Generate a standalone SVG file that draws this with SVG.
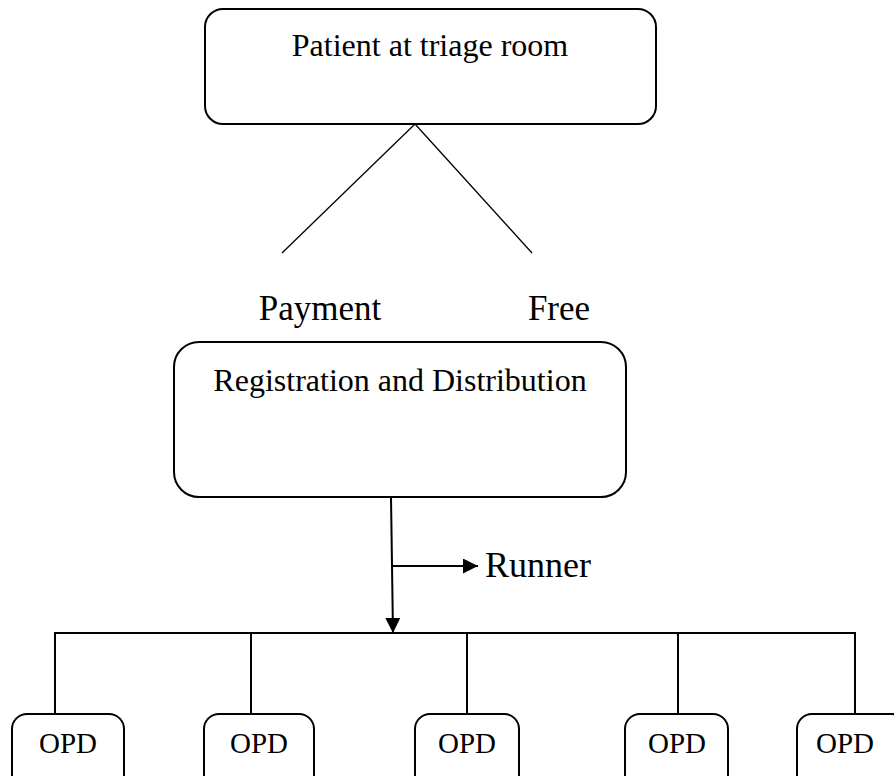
<svg xmlns="http://www.w3.org/2000/svg" width="894" height="776" viewBox="0 0 894 776">
<style>
.box{fill:#fff;stroke:#000;stroke-width:2}
.t{font-family:"Liberation Serif","Times New Roman",serif;fill:#000;text-anchor:middle}
.ln{stroke:#000;stroke-width:2;fill:none}
.thin{stroke:#000;stroke-width:1.3;fill:none}
</style>
<defs>
<marker id="ah" markerWidth="8" markerHeight="8" refX="8" refY="4" orient="auto" markerUnits="userSpaceOnUse" viewBox="0 0 8 8">
<path d="M0,0 L8,4 L0,8 Z" fill="#000"/>
</marker>
<marker id="ah2" viewBox="0 0 15 15" refX="15" refY="7.5" markerWidth="15" markerHeight="15" orient="auto" markerUnits="userSpaceOnUse">
<path d="M0,0 L15,7.5 L0,15 Z" fill="#000"/>
</marker>
</defs>
<rect width="894" height="776" fill="#fff"/>
<g id="connectors">
<line class="thin" x1="415" y1="124" x2="282" y2="253"/>
<line class="thin" x1="415" y1="124" x2="532" y2="253"/>
<line class="ln" x1="391" y1="497" x2="393" y2="633" marker-end="url(#ah2)"/>
<line class="ln" x1="392" y1="566" x2="478" y2="566" marker-end="url(#ah2)"/>
<polyline class="ln" points="55,714 55,633 855,633 855,714"/>
<line class="ln" x1="251" y1="633" x2="251" y2="714"/>
<line class="ln" x1="467" y1="633" x2="467" y2="714"/>
<line class="ln" x1="678" y1="633" x2="678" y2="714"/>
</g>
<g id="triage">
<rect class="box" x="205" y="9" width="451" height="115" rx="18"/>
<text class="t" x="430" y="56" font-size="32">Patient at triage room</text>
</g>
<g id="payment"><text class="t" x="320" y="320" font-size="35">Payment</text></g>
<g id="free"><text class="t" x="559" y="320" font-size="35">Free</text></g>
<g id="registration">
<rect class="box" x="174" y="342" width="452" height="155" rx="25"/>
<text class="t" x="400" y="391" font-size="32">Registration and Distribution</text>
</g>
<g id="runner"><text class="t" x="485" y="577" font-size="36" style="text-anchor:start">Runner</text></g>
<g id="opd1"><rect class="box" x="12" y="714" width="112" height="80" rx="15"/><text class="t" x="68" y="753" font-size="29">OPD</text></g>
<g id="opd2"><rect class="box" x="204" y="714" width="110" height="80" rx="15"/><text class="t" x="259" y="753" font-size="29">OPD</text></g>
<g id="opd3"><rect class="box" x="415" y="714" width="104" height="80" rx="15"/><text class="t" x="467" y="753" font-size="29">OPD</text></g>
<g id="opd4"><rect class="box" x="625" y="714" width="103" height="80" rx="15"/><text class="t" x="677" y="753" font-size="29">OPD</text></g>
<g id="opd5"><rect class="box" x="797" y="714" width="110" height="80" rx="15"/><text class="t" x="845" y="753" font-size="29">OPD</text></g>
</svg>
